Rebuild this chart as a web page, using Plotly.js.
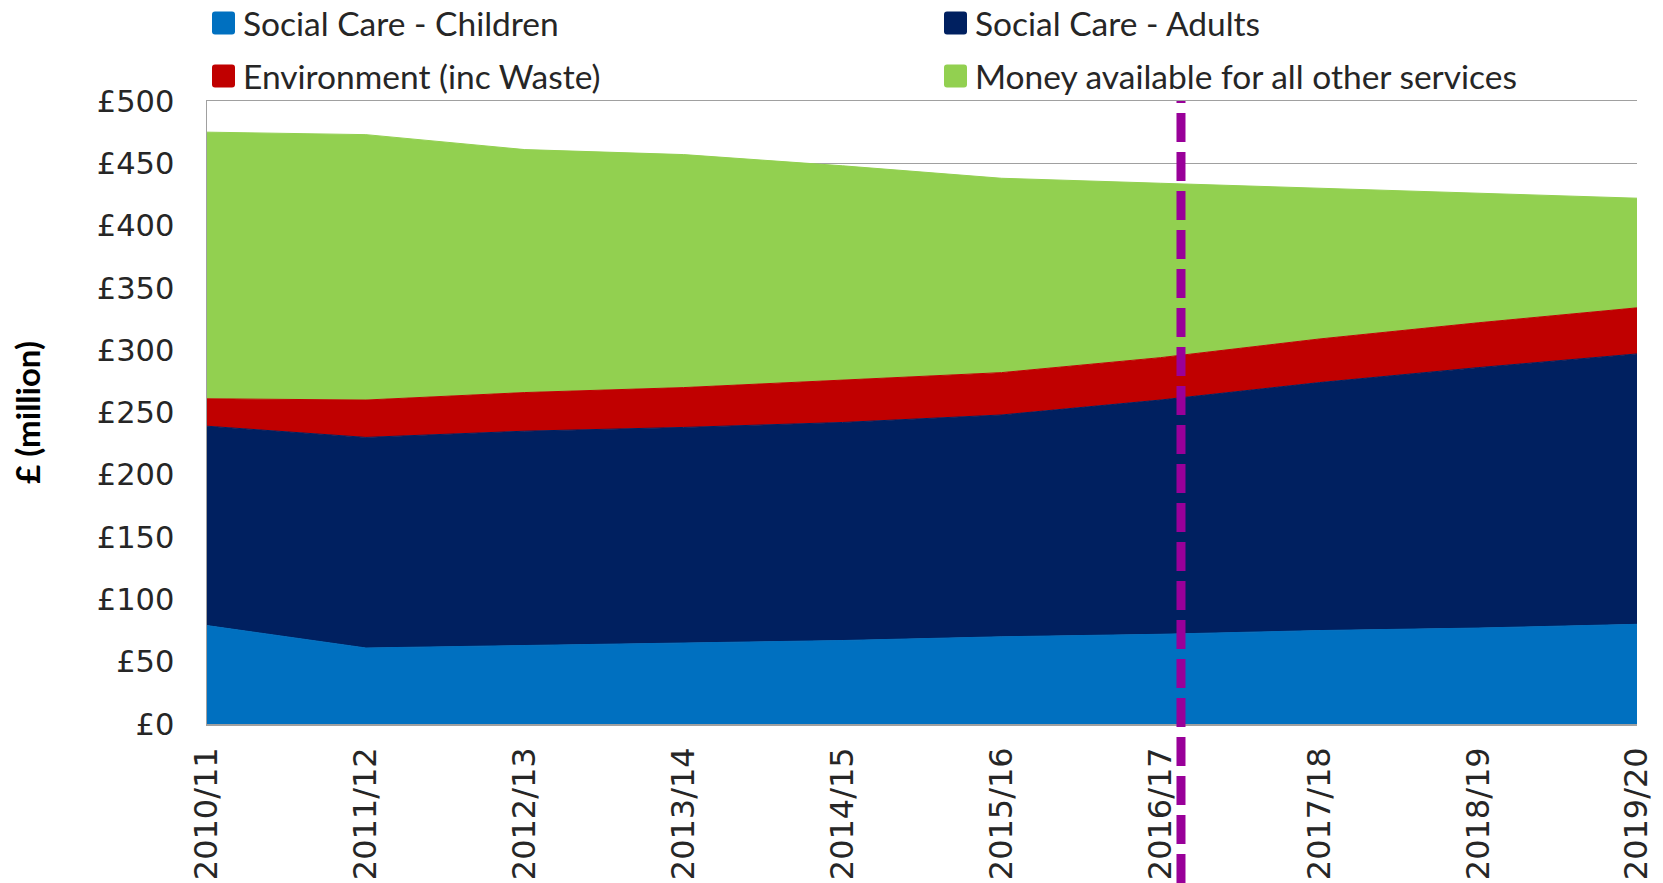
<!DOCTYPE html>
<html>
<head>
<meta charset="utf-8">
<script src="https://cdn.plot.ly/plotly-3.0.1.min.js"></script>
<style>
  html, body { margin: 0; padding: 0; background: #ffffff; }
  #chart { width: 1663px; height: 883px; }
</style>
</head>
<body>
<div id="chart"></div>
<script>
// ---- data (£ million) ----
const years = ['2010/11', '2011/12', '2012/13', '2013/14', '2014/15',
               '2015/16', '2016/17', '2017/18', '2018/19', '2019/20'];
const seriesNames = ['Social Care - Children', 'Social Care - Adults',
                     'Environment (inc Waste)', 'Money available for all other services'];
const children    = [79, 61, 63, 65, 67, 70, 72, 75, 77, 80];
const adults      = [160, 169, 172, 173, 175, 178, 188, 199, 209, 217];
const environment = [22, 30, 31, 32, 34, 34, 34, 35, 36, 37];
const otherServices = [214, 213, 195, 187, 172, 156, 140, 121, 104, 88];
const yTickValues = [0, 50, 100, 150, 200, 250, 300, 350, 400, 450, 500];
const yTickLabels = ['£0', '£50', '£100', '£150', '£200', '£250', '£300', '£350', '£400', '£450', '£500'];
const dividerPosition = 6.13; // just after 2016/17

// ---- styling ----
const colors = ['#0070C0', '#002060', '#C00000', '#92D050'];
const W = 1663, H = 883;
const M = { l: 207, r: 26, t: 101, b: 159 };
const plotW = W - M.l - M.r, plotH = H - M.t - M.b;
const px2paperX = p => (p - M.l) / plotW;
const px2paperY = p => (H - M.b - p) / plotH;

const valuesList = [children, adults, environment, otherServices];
const traces = valuesList.map((vals, i) => ({
  type: 'scatter',
  x: years,
  y: vals,
  name: seriesNames[i],
  stackgroup: 'one',
  mode: 'lines',
  line: { width: 1, color: colors[i] },
  fillcolor: colors[i],
  showlegend: false,
  hoverinfo: 'x+y+name'
}));

// legend built from shapes + annotations (square swatches)
const legendItems = [
  { name: seriesNames[0], color: colors[0], sx: 212, tx: 241, cy: 23 },
  { name: seriesNames[1], color: colors[1], sx: 944, tx: 973, cy: 23 },
  { name: seriesNames[2], color: colors[2], sx: 212, tx: 241, cy: 76 },
  { name: seriesNames[3], color: colors[3], sx: 944, tx: 973, cy: 76 }
];
const sw = 23, rad = 3;
function roundedRectPath(x0, y0, x1, y1, r) {
  const X = px2paperX, Y = px2paperY;
  return 'M' + X(x0 + r) + ',' + Y(y0) +
    ' L' + X(x1 - r) + ',' + Y(y0) +
    ' Q' + X(x1) + ',' + Y(y0) + ' ' + X(x1) + ',' + Y(y0 + r) +
    ' L' + X(x1) + ',' + Y(y1 - r) +
    ' Q' + X(x1) + ',' + Y(y1) + ' ' + X(x1 - r) + ',' + Y(y1) +
    ' L' + X(x0 + r) + ',' + Y(y1) +
    ' Q' + X(x0) + ',' + Y(y1) + ' ' + X(x0) + ',' + Y(y1 - r) +
    ' L' + X(x0) + ',' + Y(y0 + r) +
    ' Q' + X(x0) + ',' + Y(y0) + ' ' + X(x0 + r) + ',' + Y(y0) + ' Z';
}
const shapes = legendItems.map(it => ({
  type: 'path', xref: 'paper', yref: 'paper',
  path: roundedRectPath(it.sx, it.cy - sw / 2, it.sx + sw, it.cy + sw / 2, rad),
  fillcolor: it.color, line: { width: 0 }, layer: 'above'
}));
shapes.push({
  type: 'line', xref: 'x', yref: 'paper',
  x0: dividerPosition, x1: dividerPosition,
  y0: 1, y1: px2paperY(H + 20),
  line: { color: '#990099', width: 9, dash: '2px,10px,27px,0px,0px,0px' },
  layer: 'above'
});
const annotations = legendItems.map(it => ({
  xref: 'paper', yref: 'paper',
  x: px2paperX(it.tx), y: px2paperY(it.cy),
  xanchor: 'left', yanchor: 'middle',
  text: it.name, showarrow: false,
  font: { family: 'Lato, sans-serif', size: 33.5, color: '#262626' }
}));

const layout = {
  width: W, height: H,
  margin: M,
  paper_bgcolor: '#ffffff',
  plot_bgcolor: '#ffffff',
  showlegend: false,
  xaxis: {
    type: 'category',
    range: [0, years.length - 1],
    showgrid: false,
    zeroline: false,
    showline: true, linecolor: '#a0a0a0', linewidth: 1.5,
    mirror: true,
    ticks: '',
    tickangle: -90,
    ticklabelstandoff: 9,
    tickfont: { family: 'DejaVu Sans, Verdana, sans-serif', size: 32, color: '#262626' }
  },
  yaxis: {
    range: [0, 500],
    tickmode: 'array',
    tickvals: yTickValues,
    ticktext: yTickLabels,
    showgrid: true, gridcolor: '#a0a0a0', gridwidth: 1.5,
    zeroline: false,
    showline: true, linecolor: '#a0a0a0', linewidth: 1.5,
    ticks: '',
    ticklabelstandoff: 25,
    tickfont: { family: 'DejaVu Sans, Verdana, sans-serif', size: 30.5, color: '#262626' },
    title: {
      text: '£ (million)',
      standoff: 46,
      font: { family: 'Lato, sans-serif', size: 33, weight: 'bold', color: '#000000' }
    }
  },
  shapes: shapes,
  annotations: annotations
};

Plotly.newPlot('chart', traces, layout, { displayModeBar: false, staticPlot: true });
</script>
</body>
</html>
